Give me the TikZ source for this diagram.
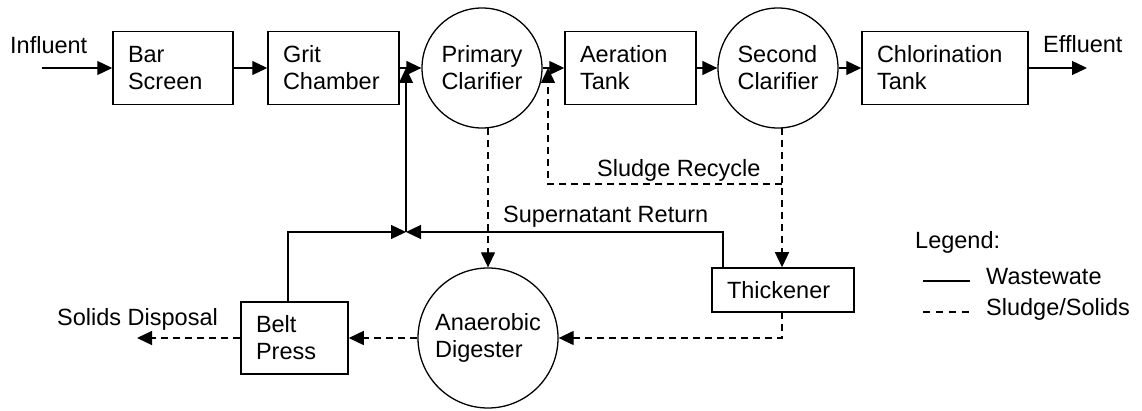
\documentclass[tikz,border=0pt]{standalone}
\usepackage{fontspec}
\setmainfont{Liberation Sans}
\usetikzlibrary{arrows.meta}

\begin{document}
\begin{tikzpicture}[x=1pt,y=-1pt,
			font=\fontsize{23.5}{27}\selectfont,
			box/.style={draw,line width=1.5pt,minimum height=73pt,align=left,inner xsep=15pt,inner ysep=0pt},
			tank/.style={circle,draw,line width=1.3pt,minimum size=120pt,inner sep=0pt,align=left},
			lbl/.style={inner sep=0pt,anchor=base west},
			flow/.style={line width=1.3pt,-{Triangle[length=15pt,width=14pt]}},
			sludge/.style={flow,dash pattern=on 7pt off 5pt},]
	\useasboundingbox (0,0) rectangle (1142,411);
	% main line
	\node[lbl] (influent) at (10,54) {Influent};
	\coordinate (in) at (42,68);
	\node[box,text width=90pt] (bar) at (173,68) {Bar\\Screen};
	\node[box,text width=101pt] (grit) at (333.5,68) {Grit\\Chamber};
	\node[tank] (primary) at (482,68) {Primary\\Clarifier};
	\node[box,text width=101pt] (aeration) at (630.5,68) {Aeration\\Tank};
	\node[tank] (second) at (778,68) {Second\\Clarifier};
	\node[box,text width=136pt] (chlor) at (945,68) {Chlorination\\Tank};
	\node[lbl] (effluent) at (1043,53) {Effluent};
	\coordinate (out) at (1087,68);
	% solids line
	\node[tank,minimum size=140pt] (digester) at (488,338) {Anaerobic\\Digester};
	\node[box,text width=77pt,minimum height=72pt] (belt) at (294.5,338) {Belt\\Press};
	\node[box,text width=112pt,minimum height=44pt,inner xsep=15pt] (thick) at (783,290) {Thickener};
	\node[lbl] (disposal) at (57,325) {Solids Disposal};
	\coordinate (disp) at (137,338);
	% labels
	\node[lbl] (recycle) at (597,177) {Sludge Recycle};
	\node[lbl] (supern) at (503,223) {Supernatant Return};
	% helper points
	\coordinate (junc) at (406,232);
	\coordinate (pri) at (488,128);
	\coordinate (sec) at (782,128);
	\coordinate (rec) at (782,184);
	\coordinate (recin) at (548,68);
	\coordinate (thk) at (782,312);
	\coordinate (sup) at (723,268);
	\coordinate (blt) at (288,303);

	\draw[flow] (in) -- (bar.west);
	\draw[flow] (bar.east) -- (grit.west);
	\draw[flow] (grit.east) -- (primary.west);
	\draw[flow] (primary.east) -- (aeration.west);
	\draw[flow] (aeration.east) -- (second.west);
	\draw[flow] (second.east) -- (chlor.west);
	\draw[flow] (chlor.east) -- (out);

	\draw[sludge] (pri) -- (digester.north);
	\draw[sludge] (sec) -- (sec |- thick.north);
	\draw[sludge] (rec) -| (recin);
	\draw[sludge] (thk) |- (digester.east);
	\draw[sludge] (digester.west) -- (belt.east);
	\draw[sludge] (belt.west) -- (disp);

	\draw[flow] (sup) |- (junc);
	\draw[flow] (blt) |- (junc);
	\draw[flow] (junc) -- (junc |- grit.east);

	% legend
	\node[lbl] (legend) at (915,249) {Legend:};
	\coordinate (wa) at (923,281);
	\coordinate (wb) at (970,281);
	\coordinate (sa) at (923,312);
	\coordinate (sb) at (970,312);
	\draw[line width=1.3pt] (wa) -- (wb);
	\draw[line width=1.3pt,dash pattern=on 7pt off 6pt] (sa) -- (sb);
	\node[lbl] (waste) at (986,285) {Wastewate};
	\node[lbl] (solids) at (986,316) {Sludge/Solids};
\end{tikzpicture}
\end{document}
